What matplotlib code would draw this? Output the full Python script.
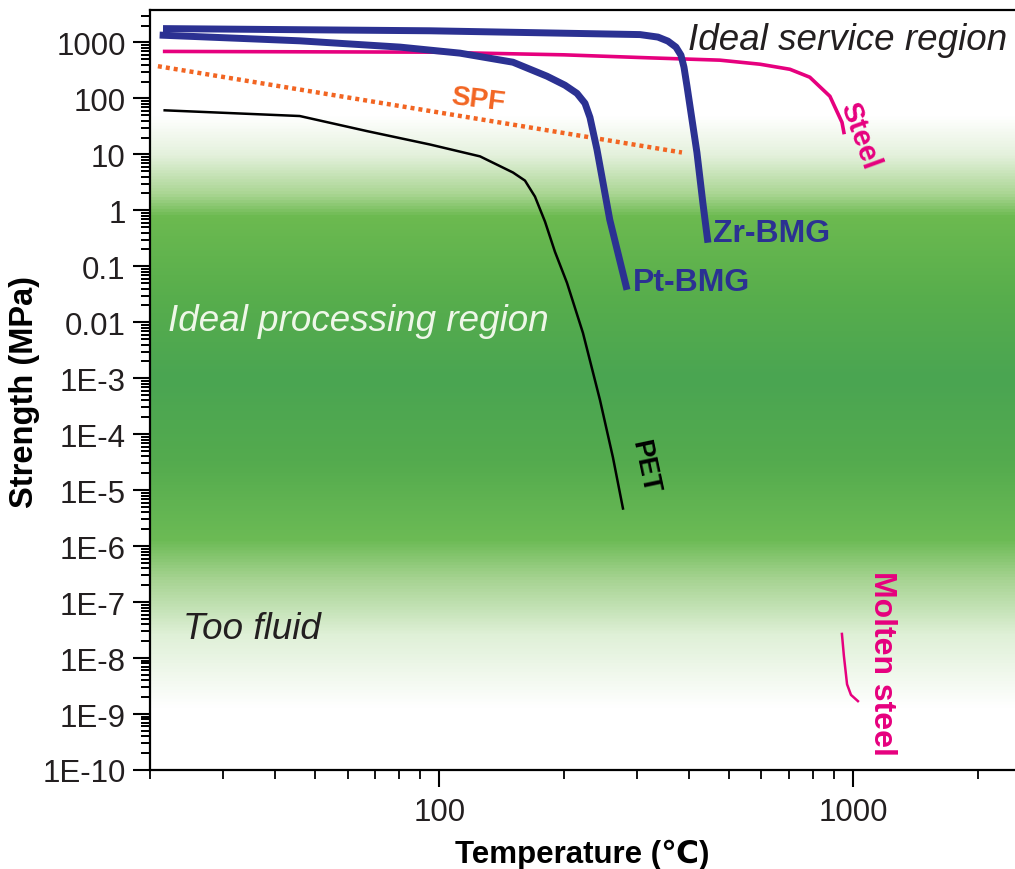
import numpy as np
import matplotlib
matplotlib.use("Agg")
import matplotlib.pyplot as plt
from matplotlib.colors import LinearSegmentedColormap
from matplotlib.markers import TICKLEFT
from matplotlib.ticker import FixedLocator, FixedFormatter, NullFormatter, NullLocator

plt.rcParams["font.family"] = ["Liberation Sans", "DejaVu Sans"]

# --- curves: temperature (C) vs strength (MPa) ---
zr_T = [21.5, 94.9, 305.4, 337.4, 356.6, 372.9, 383.4, 389.9, 396.5, 419, 433, 445.5]
zr_S = [1766, 1614, 1380, 1245, 1055, 824, 592, 361, 165, 10.8, 1.37, 0.264]

pt_T = [21.1, 46.0, 80.4, 112.2, 150.6, 182, 201.1, 215, 224.8, 231.1, 240.3, 258, 284]
pt_S = [1352, 1068, 824, 643, 443, 249, 172, 123, 81.7, 45.8, 12.2, 0.681, 0.038]

steel_T = [21.7, 95, 200, 322, 476, 595, 703, 785, 878, 939, 949]
steel_S = [690, 670, 600, 530, 482, 408, 331, 239, 109, 37.3, 24.6]

spf_T = [20.9, 385.5]
spf_S = [376, 10.8]

pet_T = [21.7, 46.0, 66.9, 94.9, 125.4, 150.6, 161, 170.2, 180, 190.2, 203.4, 222.3,
         244.4, 262.6, 277.7]
pet_S = [61.2, 48.4, 26.0, 15.0, 9.2, 4.74, 3.40, 1.76, 0.627, 0.182, 0.0506, 6.43e-3,
         4.06e-4, 3.86e-5, 4.7e-6]

molten_T = [938.6, 949, 965.8, 987, 1026]
molten_S = [2.7e-8, 1.09e-8, 3.4e-9, 2.2e-9, 1.7e-9]

y_ticks = [1e3, 1e2, 1e1, 1, 0.1, 0.01, 1e-3, 1e-4, 1e-5, 1e-6, 1e-7, 1e-8, 1e-9, 1e-10]
y_labels = ["1000", "100", "10", "1", "0.1", "0.01", "1E-3", "1E-4", "1E-5",
            "1E-6", "1E-7", "1E-8", "1E-9", "1E-10"]
x_ticks = [100, 1000]
x_labels = ["100", "1000"]

XMIN, XMAX = 20, 2458
YMIN, YMAX = 1e-10, 3795

NAVY = "#2b3192"
MAGENTA = "#e6007e"
ORANGE = "#f26522"

rect = [150 / 1015, 1 - 771 / 870, 1 - 150 / 1015, (771 - 11) / 870]
fig = plt.figure(figsize=(10.15, 8.7), dpi=100)
ax = fig.add_axes(rect)
ax.set_xscale("log")
ax.set_yscale("log")

# green processing band, defined along log10(strength)
bg_logS = [-10, -8.9, -7.6, -6.6, -5.9, -4.5, -3.0, -1.5, -0.1, 0.3, 1.0, 1.7, np.log10(YMAX)]
bg_cols = ["#ffffff", "#ffffff", "#dff0d7", "#a6d391", "#6cbb55", "#54ab4e", "#4aa552",
           "#58ae4c", "#6cba50", "#a9d592", "#e4f1dc", "#ffffff", "#ffffff"]
lo, hi = np.log10(YMIN), np.log10(YMAX)
stops = [((v - lo) / (hi - lo), c) for v, c in zip(bg_logS, bg_cols)]
cmap = LinearSegmentedColormap.from_list("band", stops)
ax.imshow(np.linspace(0, 1, 1024).reshape(-1, 1), cmap=cmap, origin="lower",
          extent=(0, 1, 0, 1), transform=ax.transAxes, aspect="auto", zorder=0)

ax.plot(spf_T, spf_S, color=ORANGE, lw=3.2, linestyle=(0, (0.9, 0.9)), zorder=2)
ax.plot(pet_T, pet_S, color="black", lw=1.8, zorder=3, solid_joinstyle="round")
ax.plot(steel_T, steel_S, color=MAGENTA, lw=2.6, zorder=3, solid_joinstyle="round")
ax.plot(molten_T, molten_S, color=MAGENTA, lw=1.8, zorder=3, solid_joinstyle="round")
ax.plot(pt_T, pt_S, color=NAVY, lw=5, zorder=4, solid_joinstyle="round", solid_capstyle="butt")
ax.plot(zr_T, zr_S, color=NAVY, lw=5, zorder=4, solid_joinstyle="round", solid_capstyle="butt")

ax.set_xlim(XMIN, XMAX)
ax.set_ylim(YMIN, YMAX)

# annotations
ax.text(398, 1146, "Ideal service region", style="italic", fontsize=26.5,
        color="#231f20", ha="left", va="center")
ax.text(22.1, 0.0109, "Ideal processing region", style="italic", fontsize=26.5,
        color="#eef7e8", ha="left", va="center")
ax.text(24.0, 3.4e-8, "Too fluid", style="italic", fontsize=26.5,
        color="#231f20", ha="left", va="center")
ax.text(124, 95, "SPF", fontsize=20, fontweight="bold", color=ORANGE,
        ha="center", va="center", rotation=-7)
ax.text(458, 0.394, "Zr-BMG", fontsize=23, fontweight="bold", color=NAVY,
        ha="left", va="center")
ax.text(293.6, 0.0527, "Pt-BMG", fontsize=23, fontweight="bold", color=NAVY,
        ha="left", va="center")
ax.text(1038, 22.4, "Steel", fontsize=21, fontweight="bold", color=MAGENTA,
        ha="center", va="center", rotation=-70)
ax.text(314, 2.75e-5, "PET", fontsize=20, fontweight="bold", color="black",
        ha="center", va="center", rotation=-78)
ax.text(1172, 8.5e-9, "Molten steel", fontsize=23, fontweight="bold", color=MAGENTA,
        ha="center", va="center", rotation=-90)

# axes styling
y_minor = [m * 10.0 ** e for e in range(-10, 4) for m in range(2, 10)]
y_minor = [v for v in y_minor if v <= YMAX]
x_minor = [m * 10.0 ** e for e in range(1, 4) for m in range(2, 10)]
ax.yaxis.set_major_locator(FixedLocator(y_ticks))
ax.yaxis.set_major_formatter(FixedFormatter(y_labels))
ax.yaxis.set_minor_locator(NullLocator())
ax.xaxis.set_major_locator(FixedLocator(x_ticks))
ax.xaxis.set_major_formatter(FixedFormatter(x_labels))
ax.xaxis.set_minor_locator(FixedLocator(x_minor))
ax.xaxis.set_minor_formatter(NullFormatter())

ax.tick_params(which="major", direction="out", length=12.5, width=1.5, labelsize=22.5,
               colors="black", labelcolor="#231f20")
ax.tick_params(axis="x", which="major", pad=7)
ax.tick_params(axis="y", which="major", pad=5)
ax.tick_params(which="minor", direction="out", length=6.5, width=1.3)
ax.spines["right"].set_visible(False)
for s in ["left", "bottom", "top"]:
    ax.spines[s].set_linewidth(1.6)

# transparent overlay axes carrying the y minor ticks (2..9 per decade)
ax2 = fig.add_axes(rect, facecolor="none")
ax2.set_xscale("log")
ax2.set_yscale("log")
ax2.set_xlim(XMIN, XMAX)
ax2.set_ylim(YMIN, YMAX)
ax2.xaxis.set_major_locator(NullLocator())
ax2.xaxis.set_minor_locator(NullLocator())
ax2.yaxis.set_major_locator(NullLocator())
ax2.yaxis.set_minor_locator(FixedLocator(y_minor))
ax2.yaxis.set_minor_formatter(NullFormatter())
ax2.tick_params(which="minor", direction="out", length=6.5, width=1.3, color="black")
for s in ax2.spines.values():
    s.set_visible(False)
ax2.set_zorder(ax.get_zorder() + 1)
ax2.plot(np.zeros(len(y_minor)), y_minor, transform=ax2.get_yaxis_transform(),
         linestyle="none", marker=TICKLEFT, markersize=6.5, markeredgewidth=1.3,
         color="black", clip_on=False, scalex=False, scaley=False)

fig.text(582 / 1015, 1 - 863 / 870, "Temperature (\u2103)", fontsize=22.5, fontweight="bold",
         ha="center", va="baseline")
fig.text(25 / 1015, 1 - 392 / 870, "Strength (MPa)", fontsize=23.5, fontweight="bold",
         ha="center", va="center", rotation=90)

fig.savefig("out.png", dpi=100)
